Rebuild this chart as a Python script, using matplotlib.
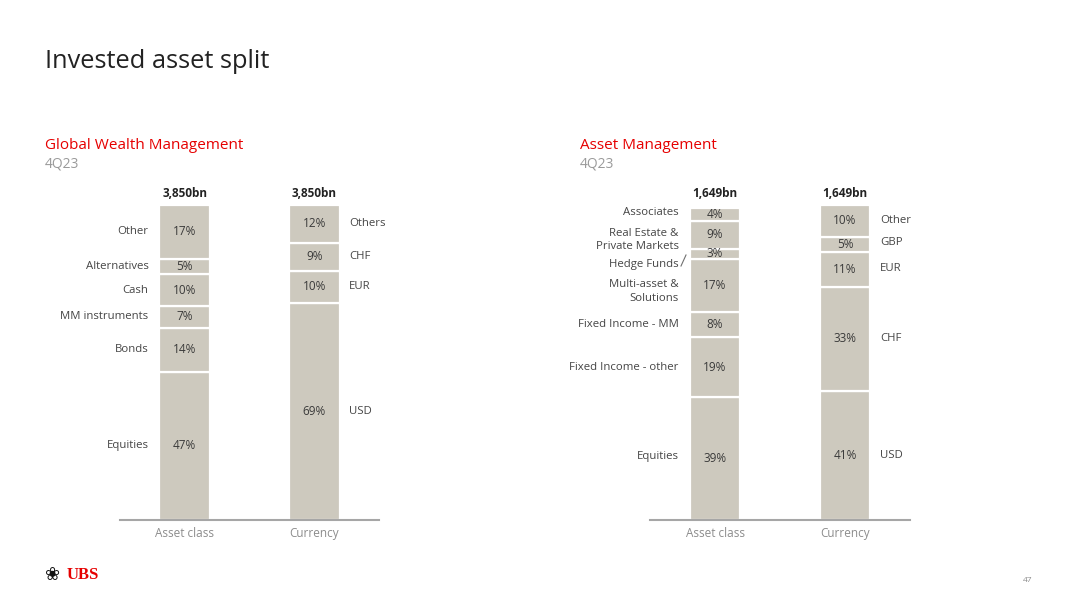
import matplotlib
matplotlib.use("Agg")
import matplotlib.pyplot as plt
from matplotlib.lines import Line2D

plt.rcParams['font.family'] = ['Open Sans', 'DejaVu Sans']

# ---------------- data ----------------
gwm_total = "3,850bn"
gwm_asset_names = ["Equities", "Bonds", "MM instruments", "Cash", "Alternatives", "Other"]
gwm_asset_vals = [47, 14, 7, 10, 5, 17]
gwm_ccy_names = ["USD", "EUR", "CHF", "Others"]
gwm_ccy_vals = [69, 10, 9, 12]

am_total = "1,649bn"
am_asset_names = ["Equities", "Fixed Income - other", "Fixed Income - MM",
                  "Multi-asset &\nSolutions", "Hedge Funds",
                  "Real Estate &\nPrivate Markets", "Associates"]
am_asset_vals = [39, 19, 8, 17, 3, 9, 4]
am_ccy_names = ["USD", "CHF", "EUR", "GBP", "Other"]
am_ccy_vals = [41, 33, 11, 5, 10]

categories = ["Asset class", "Currency"]

BAR = "#cdc9be"
TXT = "#3a3a3a"
LBL = "#454545"
GRAY = "#8c8c8c"
RED = "#e60000"

W, H = 1080, 608
fig = plt.figure(figsize=(W / 100, H / 100), dpi=100)


def px_axes(x0, x1, ybot, ytop):
    return fig.add_axes([x0 / W, (H - ybot) / H, (x1 - x0) / W, (ybot - ytop) / H])


def stacked(ax, xpos, vals, names, side, label_dy=None):
    bottom = 0
    for i, (v, n) in enumerate(zip(vals, names)):
        ax.bar(xpos, v, bottom=bottom, width=0.39, color=BAR,
               edgecolor="white", linewidth=1.6, zorder=2)
        mid = bottom + v / 2
        ax.text(xpos, mid, f"{v}%", ha="center", va="center",
                fontsize=8.5, color=TXT, zorder=3)
        dy = 0 if label_dy is None else label_dy[i]
        if side == "left":
            ax.text(xpos - 0.28, mid + dy, n, ha="right", va="center",
                    fontsize=8.2, color=LBL, linespacing=1.3)
        else:
            ax.text(xpos + 0.27, mid + dy, n, ha="left", va="center",
                    fontsize=8.2, color=LBL)
        bottom += v


def panel(x0, x1, tx, title, total, a_vals, a_names, c_vals, c_names,
          a_dy=None, c_dy=None):
    ax = px_axes(x0, x1, 520, 205)
    stacked(ax, 0, a_vals, a_names, "left", a_dy)
    stacked(ax, 1, c_vals, c_names, "right", c_dy)
    ax.set_xlim(-0.5, 1.5)
    ax.set_ylim(0, 100)
    for s in ["top", "left", "right"]:
        ax.spines[s].set_visible(False)
    ax.spines["bottom"].set_color("#a6a6a6")
    ax.spines["bottom"].set_linewidth(1.5)
    ax.set_yticks([])
    ax.set_xticks([0, 1])
    ax.set_xticklabels(categories, fontsize=8.5, color=GRAY)
    ax.tick_params(axis="x", length=0, pad=5)
    for xp in (0, 1):
        ax.text(xp, 101.5, total, ha="center", va="bottom",
                fontsize=8.5, fontweight="bold", color="#222222")
    fig.text(tx / W, 1 - 146 / H, title, fontsize=11, color=RED,
             va="center", ha="left")
    fig.text(tx / W, 1 - 164 / H, "4Q23", fontsize=10, color="#9a9a9a",
             va="center", ha="left")
    return ax


panel(120, 379, 45, "Global Wealth Management", gwm_total,
      gwm_asset_vals, gwm_asset_names, gwm_ccy_vals, gwm_ccy_names)

am_dy = [0.8, 0, 0, -2, -3.5, -1.6, 0.5]
am_c_dy = [0, 0, 0.3, 0.6, 0]
panel(650, 910, 580, "Asset Management", am_total,
      am_asset_vals, am_asset_names, am_ccy_vals, am_ccy_names,
      am_dy, am_c_dy)
# small connector for hedge funds
fig.add_artist(Line2D([681 / W, 686 / W], [1 - 266 / H, 1 - 255 / H],
                      color="#707070", linewidth=0.8))

fig.text(45 / W, 1 - 61 / H, "Invested asset split", fontsize=18.3,
         color="#222222", va="center", ha="left")

# footer
fig.text(45 / W, 1 - 575 / H, "\u2740", fontsize=13, color="#111111",
         va="center", ha="left", family="DejaVu Sans")
fig.text(67 / W, 1 - 575 / H, "UBS", fontsize=12, fontweight="bold",
         color=RED, va="center", ha="left", family="Liberation Serif")
fig.text(1028 / W, 1 - 580 / H, "47", fontsize=6, color="#8c8c8c",
         va="center", ha="center")

fig.savefig("out.png", dpi=100)
